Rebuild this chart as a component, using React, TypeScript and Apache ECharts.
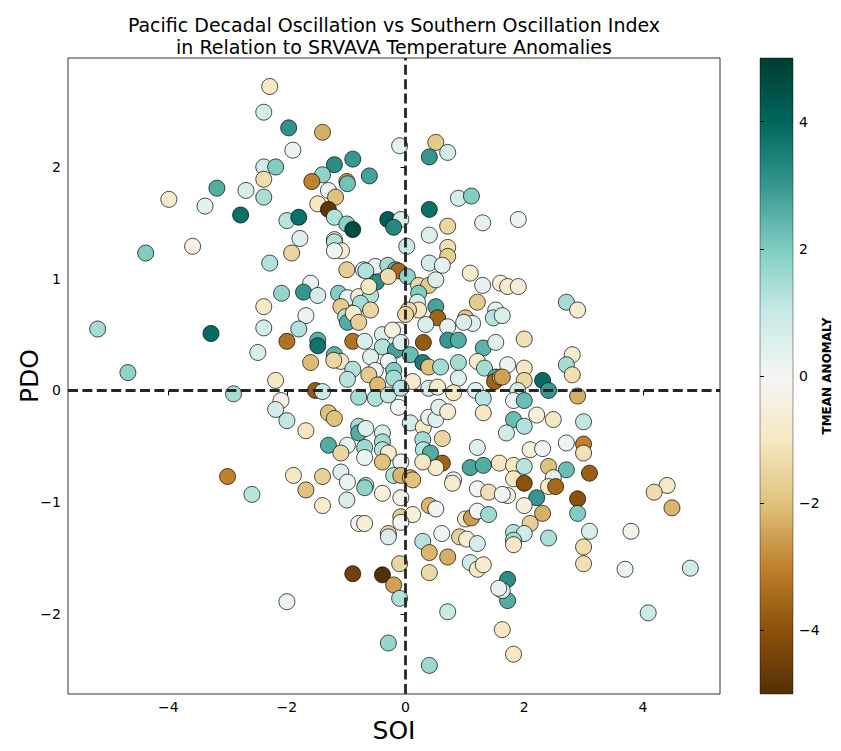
import { useEffect, useRef } from 'react';
import * as echarts from 'echarts';

// Southern Oscillation Index (x), Pacific Decadal Oscillation (y), mean temperature anomaly (colour)
const soi = [
  -2.29, -2.39, -1.97, -1.90, -2.39, -2.19, -2.39, -3.18, -2.69, -3.99,
  -2.39, -3.38, -2.78, -2.00, -3.59, -4.38, -2.29, -1.92, -1.40, -0.10,
  0.51, 0.71, 0.40, -0.89, -1.20, -1.40, -1.58, -0.99, -0.98, -0.61,
  -1.30, -1.18, -1.48, -1.30, -1.20, -0.99, -0.89, -1.80, -0.30, -0.08,
  -0.20, -1.78, -1.20, -1.20, -1.08, -1.20, 0.02, 0.89, 1.11, 1.30,
  0.40, 0.71, 0.40, 0.71, 0.71, 0.40, 0.62, 1.09, -0.99, -0.71,
  -0.51, -0.30, -0.17, -0.12, -0.67, 1.90, -2.09, -2.39, -5.19, -3.28,
  -2.39, -2.00, -2.49, -4.68, -2.19, -2.90, -2.10, -2.19, -2.00, -3.00,
  -2.59, -2.00, -0.49, -0.29, 0.03, -1.60, -1.72, -1.48, -1.13, -0.98,
  -0.79, -0.59, -0.62, -1.09, -0.76, -1.01, -0.98, -0.88, -0.79, -0.59,
  -1.68, -1.80, -1.48, -1.48, -0.89, -0.69, -0.39, -0.39, -0.17, -0.12,
  -0.22, -0.08, -1.20, -1.09, -1.21, -0.59, -0.29, -1.60, -0.89, -0.98,
  -0.51, -0.20, -0.20, -0.62, -0.47, 0.12, -1.52, -1.40, -0.79, -0.51,
  -0.12, -0.29, -0.08, -1.30, -1.20, -1.68, -1.30, -0.98, -1.09, -0.79,
  -0.79, -0.67, -0.69, -0.69, -0.39, -0.39, -0.39, -0.29, -0.39, -0.08,
  -1.09, -1.89, -1.40, -0.98, -0.67, -0.20, -0.08, 0.08, 0.08, 0.30,
  0.39, 0.51, 0.56, 0.71, 0.29, 0.30, 0.42, 0.62, 0.62, 0.51,
  0.29, 0.81, 1.21, 1.09, 1.31, 1.58, 0.22, 0.39, 0.51, 0.22,
  0.20, 0.51, 0.22, 0.05, 0.54, 0.34, 0.00, 0.71, 0.71, 0.89,
  0.30, 0.08, 0.29, 0.39, 0.59, 0.89, 0.89, 0.39, 0.54, 0.81,
  1.30, 1.21, 1.01, 1.13, 0.98, 1.52, 1.48, 1.60, 1.31, 1.52,
  1.21, 1.33, 1.52, 1.50, 1.60, 1.18, 1.31, 1.31, 1.72, 1.90,
  2.71, 2.90, 1.63, 2.00, 2.81, 2.71, 2.81, 1.72, 2.00, 2.00,
  1.63, 2.31, 2.41, 2.90, 1.89, 1.82, 2.00, 2.21, 2.49, 3.00,
  1.82, 2.00, 1.70, 2.71, 3.00, 3.00, 2.10, 2.31, 1.82, 2.00,
  2.41, 2.71, 3.10, 1.82, 2.00, 2.49, 4.41, 4.19, 1.72, 2.41,
  2.53, 2.21, 2.00, 2.31, 2.10, 2.90, 2.90, 1.82, 2.00, 1.82,
  1.82, 2.41, 3.10, 3.00, 3.00, 3.80, 4.49, 3.70, 4.80, 4.09,
  1.72, 1.72, 1.63, 1.63, 1.82, -1.68, -1.40, -0.99, -0.69, -0.39,
  -0.08, 0.12, -0.08, 0.12, -0.08, -0.79, -0.69, -0.29, -0.29, 0.40,
  0.51, 0.29, 0.61, 0.40, 0.71, 0.40, 1.01, 1.11, 1.21, 1.40,
  1.21, 1.40, 0.79, 1.63, 0.91, 1.03, 1.21, 1.09, 1.21, 1.31,
  1.57, -0.89, -0.39, -0.20, -0.10, -0.10, 0.71, -0.29, 0.40,
];

const pdo = [
  2.72, 2.49, 2.35, 2.15, 2.00, 2.00, 1.89, 1.81, 1.79, 1.71,
  1.73, 1.65, 1.57, 1.52, 1.29, 1.23, 1.14, 1.23, 2.31, 2.19,
  2.22, 2.13, 2.09, 2.07, 2.02, 1.93, 1.87, 1.87, 1.85, 1.92,
  1.79, 1.73, 1.67, 1.62, 1.55, 1.49, 1.44, 1.55, 1.53, 1.53,
  1.46, 1.36, 1.35, 1.33, 1.25, 1.25, 1.29, 1.72, 1.74, 1.50,
  1.62, 1.47, 1.39, 1.28, 1.20, 1.14, 1.12, 1.05, 1.08, 1.08,
  1.11, 1.12, 1.08, 1.07, 1.07, 1.53, 0.87, 0.75, 0.55, 0.51,
  0.56, 0.44, 0.34, 0.16, 0.09, -0.03, -0.09, -0.17, -0.27, -0.77,
  -0.93, -1.89, 0.97, 1.02, 1.02, 0.96, 0.88, 0.85, 0.87, 0.83,
  0.84, 0.85, 0.93, 0.75, 0.78, 0.66, 0.61, 0.69, 0.61, 0.72,
  0.67, 0.55, 0.45, 0.40, 0.44, 0.44, 0.50, 0.39, 0.36, 0.54,
  0.54, 0.43, 0.32, 0.26, 0.27, 0.30, 0.26, 0.25, 0.19, 0.10,
  0.18, 0.18, 0.11, 0.14, 0.05, 0.08, 0.00, -0.01, -0.06, -0.07,
  -0.15, -0.04, 0.02, -0.20, -0.25, -0.36, -0.49, -0.49, -0.56, -0.32,
  -0.38, -0.34, -0.51, -0.60, -0.38, -0.46, -0.53, -0.56, -0.64, -0.64,
  -0.73, -0.76, -0.77, -0.82, -0.85, -0.76, -0.76, -0.78, -0.29, -0.33,
  -0.24, -0.26, -0.15, -0.19, -0.44, -0.53, -0.56, -0.43, -0.65, -0.69,
  -0.64, -0.80, -0.51, -0.69, -0.67, -0.65, 0.94, 0.94, 0.99, 0.87,
  0.79, 0.75, 0.72, 0.72, 0.65, 0.59, 0.68, 0.57, 0.45, 0.45,
  0.43, 0.32, 0.25, 0.21, 0.21, 0.25, 0.11, 0.02, 0.03, -0.02,
  0.94, 0.79, 0.65, 0.60, 0.61, 0.72, 0.65, 0.96, 0.38, 0.43,
  0.26, 0.20, 0.12, 0.08, 0.12, 0.00, -0.07, -0.20, 0.93, 0.93,
  0.79, 0.72, 0.67, 0.46, 0.32, 0.23, 0.14, 0.23, 0.20, 0.09,
  0.12, 0.09, 0.00, -0.05, 0.00, -0.09, -0.09, -0.22, -0.26, -0.28,
  -0.26, -0.32, -0.38, -0.47, -0.48, -0.56, -0.53, -0.52, -0.67, -0.68,
  -0.68, -0.71, -0.74, -0.79, -0.83, -0.78, -0.85, -0.91, -0.94, -0.86,
  -0.86, -0.96, -1.03, -1.10, -1.19, -0.97, -1.10, -1.27, -1.28, -1.34,
  -1.38, -1.32, -1.26, -1.40, -1.55, -1.26, -1.05, -1.60, -1.59, -1.99,
  -1.69, -1.88, -1.79, -2.14, -2.36, -0.89, -1.03, -0.98, -0.87, -0.92,
  -0.96, -0.80, -1.13, -1.11, -1.18, -1.19, -1.19, -1.28, -1.31, -1.03,
  -1.06, -1.35, -1.28, -1.45, -1.49, -1.63, -1.15, -1.14, -1.08, -1.11,
  -0.88, -0.91, -0.83, -0.93, -1.31, -1.33, -1.37, -1.54, -1.60, -1.56,
  -1.77, -1.64, -1.65, -1.74, -1.55, -1.86, -1.98, -2.26, -2.46,
];

const tmean = [
  -1.0, 0.7, 3.1, 0.2, 0.7, 2.0, -1.3, 2.6, 0.6, -0.8,
  1.4, 0.4, 3.8, 1.2, -0.4, 2.0, 1.3, -1.5, -2.3, 0.4,
  -1.8, 0.8, 3.0, 3.0, 3.2, 1.8, -3.0, -2.5, 2.2, 2.8,
  0.2, -2.0, -1.0, -4.8, 1.3, 1.8, 4.6, 3.8, 4.2, 0.6,
  3.3, 0.5, -0.9, 1.3, -0.7, 0.2, 1.0, 0.7, 2.0, 0.3,
  3.8, -1.5, 0.5, -1.2, -1.7, 0.7, 0.3, -0.8, -1.7, 0.3,
  0.2, 1.5, 2.5, -3.5, 1.3, 0.2, 1.7, -0.9, 1.5, 3.9,
  0.7, -3.3, 0.6, 1.8, -1.0, 1.5, -0.3, 0.7, 1.1, -3.0,
  1.2, 0.2, 3.2, -1.3, 1.8, 0.3, 3.0, 0.7, 2.0, 0.3,
  -0.5, 1.3, -1.0, -1.8, 1.5, 1.3, 2.6, -0.8, -1.6, -1.5,
  0.2, 1.3, 2.5, 3.7, -3.3, 0.6, 0.6, 1.3, 2.8, 0.2,
  -0.5, 0.6, 2.5, -1.0, -1.5, 0.5, 0.2, -2.1, 1.3, 1.2,
  0.2, 2.0, 1.5, -1.8, -2.1, -0.8, -3.8, 1.0, 1.5, 1.3,
  0.0, 1.0, 1.2, -2.0, -2.0, -1.0, 2.6, 0.3, -1.5, 1.5,
  2.6, 0.5, 1.6, 0.2, 0.6, 1.5, 1.3, -0.8, -2.0, 0.2,
  0.5, -1.0, -1.6, 0.2, 1.3, 1.3, -2.2, -2.2, 0.7, -1.0,
  0.2, 0.5, 0.5, -0.8, 1.5, 1.2, 2.6, -1.5, -3.6, -0.8,
  -1.0, 0.1, 0.5, 2.7, 2.6, -1.0, -1.4, -1.8, 0.6, 2.0,
  0.6, 2.8, -1.0, -1.4, -3.6, 0.6, -1.5, 0.3, 3.0, 2.6,
  -3.8, 2.3, 3.5, -2.0, 1.5, 1.5, 0.5, 0.7, -0.8, -1.0,
  0.3, -1.8, -2.0, 0.5, 0.6, 0.3, 1.2, -0.5, 2.5, 0.5,
  -0.8, 1.5, 2.5, -3.6, -2.0, 0.5, 1.2, -1.0, -0.8, -0.6,
  1.5, -0.8, 0.6, -1.2, -0.8, 1.5, -1.2, 0.2, -1.0, -1.5,
  -2.5, 3.9, 3.0, -2.3, 0.8, 0.2, 2.3, -0.5, -1.0, 1.1,
  2.3, 1.3, 0.8, 0.2, -3.0, -1.2, -0.5, 0.1, -1.0, 1.2,
  -2.0, 2.3, -3.7, -1.0, -4.0, 0.4, -0.9, -1.3, -0.5, -0.8,
  -3.5, 3.0, -0.5, -2.3, -1.6, -4.0, 2.0, 1.3, 0.8, 1.5,
  -1.0, 1.4, 0.6, -1.3, -1.2, -0.2, -2.2, 0.2, 0.9, 0.9,
  3.2, 2.6, 0.5, -1.0, -1.0, -2.0, -0.8, 0.6, 1.8, -0.5,
  -0.2, -2.0, -1.7, -0.5, 0.0, 0.1, -0.6, -1.5, 0.6, -2.2,
  0.1, 1.2, 0.1, -2.2, -2.3, -1.4, -0.9, -2.6, 0.1, 1.6,
  0.1, -1.2, -0.8, 0.1, -1.6, -0.7, 0.7, 0.8, -1.0, -0.8,
  0.3, -4.5, -5.0, -2.5, -1.5, 1.3, 1.0, 1.7, 1.6,
];

const xTicks = [-4, -2, 0, 2, 4];
const yTicks = [-2, -1, 0, 1, 2];
const colorTicks = [-4, -2, 0, 2, 4];

// BrBG diverging palette, from -5 (brown) to +5 (teal)
const brbg = [
  '#543005', '#8c510a', '#bf812d', '#dfc27d', '#f6e8c3', '#f5f5f5',
  '#c7eae5', '#80cdc1', '#35978f', '#01665e', '#003c30',
];

const FONT = 'DejaVu Sans';
const fmt = (v: number) => String(v).replace('-', '\u2212');

export default function App() {
  const ref = useRef<HTMLDivElement>(null);

  useEffect(() => {
    document.body.style.margin = '0';
    const chart = echarts.init(ref.current!, null, { renderer: 'svg' });
    const points = soi.map((s, i) => [s, pdo[i], tmean[i]]);
    const gradient = new echarts.graphic.LinearGradient(
      0, 0, 0, 1,
      brbg.slice().reverse().map((c, i) => ({ offset: i / (brbg.length - 1), color: c })),
    );

    chart.setOption({
      animation: false,
      textStyle: { fontFamily: FONT },
      grid: [
        { left: 68, top: 58, width: 652, height: 636, show: true, borderColor: '#333', borderWidth: 1, backgroundColor: 'transparent' },
        { left: 760, top: 58, width: 33, height: 636, show: false },
      ],
      xAxis: [
        {
          type: 'value', gridIndex: 0, min: -5.69, max: 5.30,
          name: 'SOI', nameLocation: 'middle', nameGap: 36, nameMoveOverlap: false,
          nameTextStyle: { fontSize: 25, color: '#000', fontFamily: FONT, verticalAlign: 'middle' },
          axisLine: { show: false },
          axisTick: { show: true, customValues: xTicks, length: 5, lineStyle: { color: '#000', width: 1 } },
          axisLabel: { customValues: xTicks, formatter: fmt, fontSize: 14, color: '#000', margin: 6, fontFamily: FONT },
          splitLine: { show: false },
        },
        { type: 'value', gridIndex: 1, show: false, min: 0, max: 1 },
      ],
      yAxis: [
        {
          type: 'value', gridIndex: 0, min: -2.716, max: 2.975,
          name: 'PDO', nameLocation: 'middle', nameRotate: 90, nameGap: 39, nameMoveOverlap: false,
          nameTextStyle: { fontSize: 25, color: '#000', fontFamily: FONT, verticalAlign: 'middle' },
          axisLine: { show: false },
          axisTick: { show: true, customValues: yTicks, length: 5, lineStyle: { color: '#000', width: 1 } },
          axisLabel: { customValues: yTicks, formatter: fmt, fontSize: 14, color: '#000', margin: 7, fontFamily: FONT },
          splitLine: { show: false },
        },
        {
          type: 'value', gridIndex: 1, position: 'right', min: -5, max: 5,
          name: 'TMEAN ANOMALY', nameLocation: 'middle', nameRotate: 90, nameGap: 34, nameMoveOverlap: false,
          nameTextStyle: { fontSize: 12, fontWeight: 'bold', color: '#000', fontFamily: FONT, verticalAlign: 'middle' },
          axisLine: { show: false },
          axisTick: { show: true, customValues: colorTicks, length: 4, lineStyle: { color: '#000', width: 1 } },
          axisLabel: { customValues: colorTicks, formatter: fmt, fontSize: 14, color: '#000', margin: 6, fontFamily: FONT },
          splitLine: { show: false },
        },
      ],
      visualMap: {
        show: false, type: 'continuous', min: -5, max: 5, dimension: 2, seriesIndex: 0,
        inRange: { color: brbg },
      },
      graphic: [
        {
          type: 'text', x: 394, y: 14,
          style: {
            text: 'Pacific Decadal Oscillation vs Southern Oscillation Index\nin Relation to SRVAVA Temperature Anomalies',
            font: `19px "${FONT}"`, fill: '#000', textAlign: 'center', lineHeight: 22,
          },
        },
        {
          type: 'rect', shape: { x: 760, y: 58, width: 33, height: 636 },
          style: { fill: gradient, stroke: 'rgba(0,0,0,0.5)', lineWidth: 0.8 },
        },
      ],
      series: [
        {
          type: 'scatter', xAxisIndex: 0, yAxisIndex: 0, data: points, symbolSize: 16, z: 2,
          itemStyle: { borderColor: 'rgba(0,0,0,0.7)', borderWidth: 1, opacity: 1 },
        },
        {
          type: 'line', xAxisIndex: 0, yAxisIndex: 0, data: [], z: 5,
          markLine: {
            silent: true, symbol: 'none', label: { show: false },
            lineStyle: { color: '#262626', width: 2.8, type: [10, 4.4] },
            data: [{ xAxis: 0 }, { yAxis: 0 }],
          },
        },
      ],
    });
    return () => chart.dispose();
  }, []);

  return <div ref={ref} style={{ width: 841, height: 751 }} />;
}
